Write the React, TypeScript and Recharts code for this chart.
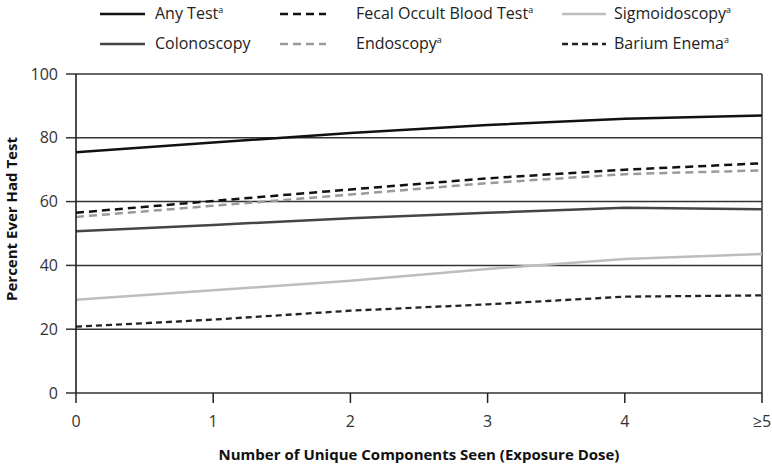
import { CartesianGrid, Label, Line, LineChart, ReferenceLine, XAxis, YAxis } from "recharts";

const doses = ["0", "1", "2", "3", "4", "≥5"];
const anyTest = [75.5, 78.5, 81.5, 84, 86, 87];
const fobt = [56.5, 60.2, 63.8, 67.3, 70, 72];
const endoscopy = [55.2, 58.7, 62.2, 65.8, 68.6, 69.8];
const colonoscopy = [50.7, 52.7, 54.8, 56.5, 58.1, 57.6];
const sigmoidoscopy = [29.2, 32.2, 35.2, 38.9, 42, 43.6];
const bariumEnema = [20.8, 23, 25.8, 27.8, 30.2, 30.6];
const yTicks = [0, 20, 40, 60, 80, 100];

const data = doses.map((d, i) => ({
  dose: d,
  anyTest: anyTest[i],
  fobt: fobt[i],
  endoscopy: endoscopy[i],
  colonoscopy: colonoscopy[i],
  sigmoidoscopy: sigmoidoscopy[i],
  bariumEnema: bariumEnema[i],
}));

const FONT = "'Open Sans', 'Noto Sans', sans-serif";

const SERIES = [
  { key: "anyTest", name: "Any Test", sup: true, color: "#111", dash: undefined, width: 2.5 },
  { key: "colonoscopy", name: "Colonoscopy", sup: false, color: "#454545", dash: undefined, width: 2.5 },
  { key: "fobt", name: "Fecal Occult Blood Test", sup: true, color: "#111", dash: "8 5", width: 2.5 },
  { key: "endoscopy", name: "Endoscopy", sup: true, color: "#9a9a9a", dash: "8 5", width: 2.5 },
  { key: "sigmoidoscopy", name: "Sigmoidoscopy", sup: true, color: "#bdbdbd", dash: undefined, width: 2.5 },
  { key: "bariumEnema", name: "Barium Enema", sup: true, color: "#222", dash: "6 4", width: 2.3 },
];

// legend columns: line start, line end, text start
const COLS = [
  [100, 145, 155],
  [280, 326, 356],
  [562, 606, 614],
];
const ROWS = [14, 44];

function LegendBox() {
  return (
    <svg width={772} height={60} style={{ position: "absolute", left: 0, top: 0 }}>
      {SERIES.map((s, i) => {
        const [x1, x2, tx] = COLS[Math.floor(i / 2)];
        const y = ROWS[i % 2];
        return (
          <g key={s.key}>
            <line x1={x1} x2={x2} y1={y} y2={y} stroke={s.color} strokeWidth={s.width} strokeDasharray={s.dash} />
            <text x={tx} y={y + 5} fontFamily={FONT} fontSize={16} fill="#222">
              {s.name}
              {s.sup && (
                <tspan fontSize={9} dy={-6}>
                  a
                </tspan>
              )}
            </text>
          </g>
        );
      })}
    </svg>
  );
}

export default function App() {
  return (
    <div style={{ position: "absolute", left: 0, top: 0, width: 772, height: 467, background: "#fff" }}>
      <LineChart width={772} height={467} data={data} margin={{ top: 74, right: 10, bottom: 44, left: 0 }}>
        <CartesianGrid vertical={false} stroke="#333" strokeWidth={1.5} />
        <XAxis
          dataKey="dose"
          height={30}
          axisLine={false}
          tickSize={10}
          tickLine={{ stroke: "#222", strokeWidth: 1.5 }}
          tick={{ fill: "#333", fontSize: 16, fontFamily: FONT }}
          tickMargin={13}
        >
          <Label
            value="Number of Unique Components Seen (Exposure Dose)"
            position="bottom"
            offset={26}
            style={{ fontFamily: FONT, fontSize: 15, fontWeight: 700, fill: "#111" }}
          />
        </XAxis>
        <YAxis
          width={76}
          domain={[0, 100]}
          ticks={yTicks}
          interval={0}
          tickSize={10}
          axisLine={{ stroke: "#111", strokeWidth: 1.5 }}
          tickLine={{ stroke: "#333", strokeWidth: 1.5 }}
          tick={{ fill: "#333", fontSize: 16, fontFamily: FONT }}
          tickMargin={8}
        >
          <Label
            content={() => (
              <text
                x={13}
                y={219}
                transform="rotate(-90 13 219)"
                textAnchor="middle"
                dominantBaseline="middle"
                style={{ fontFamily: FONT, fontSize: 15, fontWeight: 700, fill: "#111" }}
              >
                Percent Ever Had Test
              </text>
            )}
          />
        </YAxis>
        <ReferenceLine x="≥5" stroke="#333" strokeWidth={1.5} />
        {SERIES.map((s) => (
          <Line
            key={s.key}
            type="linear"
            dataKey={s.key}
            name={s.name}
            stroke={s.color}
            strokeWidth={s.width}
            strokeDasharray={s.dash}
            dot={false}
            activeDot={false}
            isAnimationActive={false}
          />
        ))}
      </LineChart>
      <LegendBox />
    </div>
  );
}
